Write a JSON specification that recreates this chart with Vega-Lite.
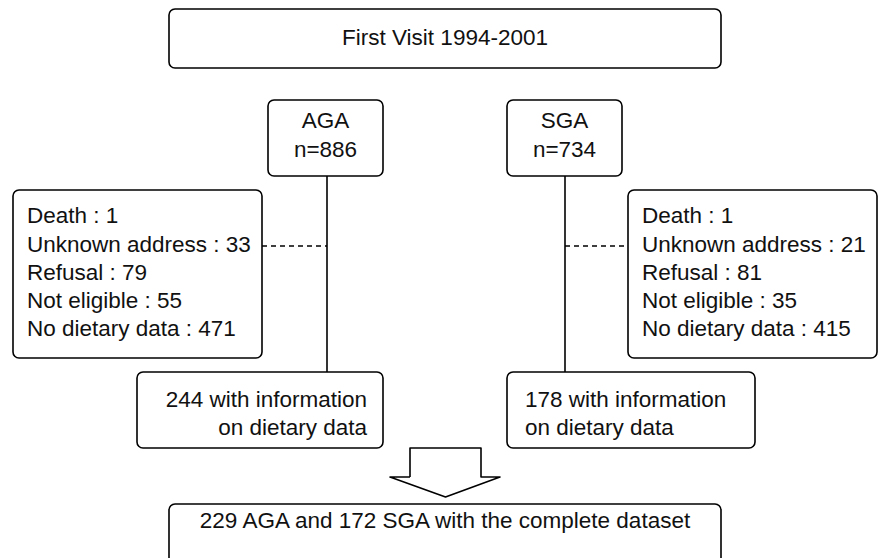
{
  "$schema": "https://vega.github.io/schema/vega-lite/v6.json",
  "width": 878,
  "height": 558,
  "autosize": {"type": "none"},
  "padding": 0,
  "background": "white",
  "config": {"view": {"stroke": null}},
  "datasets": {
    "boxes": [
      {"box": "top", "x1": 169, "x2": 721, "y1": 9, "y2": 68},
      {"box": "AGA", "x1": 268, "x2": 383, "y1": 100, "y2": 176},
      {"box": "SGA", "x1": 507, "x2": 622, "y1": 100, "y2": 176},
      {"box": "AGA excluded", "x1": 13, "x2": 262, "y1": 190, "y2": 358},
      {"box": "SGA excluded", "x1": 628, "x2": 877, "y1": 190, "y2": 358},
      {"box": "AGA dietary", "x1": 137, "x2": 383, "y1": 372, "y2": 448},
      {"box": "SGA dietary", "x1": 507, "x2": 755, "y1": 372, "y2": 448},
      {"box": "final", "x1": 169, "x2": 721, "y1": 504, "y2": 580}
    ],
    "links": [
      {"link": "main", "x1": 327, "x2": 327, "y1": 176, "y2": 372},
      {"link": "main", "x1": 565, "x2": 565, "y1": 176, "y2": 372},
      {"link": "exclusion", "x1": 262, "x2": 327, "y1": 246, "y2": 246},
      {"link": "exclusion", "x1": 565, "x2": 628, "y1": 246, "y2": 246}
    ],
    "arrow": [
      {"order": 1, "x": 410, "y": 477},
      {"order": 2, "x": 410, "y": 448},
      {"order": 3, "x": 481, "y": 448},
      {"order": 4, "x": 481, "y": 477},
      {"order": 5, "x": 500, "y": 477},
      {"order": 6, "x": 445.5, "y": 497},
      {"order": 7, "x": 390, "y": 477},
      {"order": 8, "x": 410, "y": 477}
    ],
    "labels": [
      {"anchor": "center", "text": "First Visit 1994-2001", "x": 445, "y": 45},
      {"anchor": "center", "text": "AGA", "x": 325.5, "y": 128},
      {"anchor": "center", "text": "n=886", "x": 325.5, "y": 157},
      {"anchor": "center", "text": "SGA", "x": 564.5, "y": 128},
      {"anchor": "center", "text": "n=734", "x": 564.5, "y": 157},
      {"anchor": "center", "text": "229 AGA and 172 SGA with the complete dataset", "x": 445, "y": 528},
      {"anchor": "left", "text": "Death : 1", "x": 27, "y": 223},
      {"anchor": "left", "text": "Unknown address : 33", "x": 27, "y": 251.5},
      {"anchor": "left", "text": "Refusal : 79", "x": 27, "y": 280},
      {"anchor": "left", "text": "Not eligible : 55", "x": 27, "y": 308},
      {"anchor": "left", "text": "No dietary data : 471", "x": 27, "y": 336},
      {"anchor": "left", "text": "Death : 1", "x": 642, "y": 223},
      {"anchor": "left", "text": "Unknown address : 21", "x": 642, "y": 251.5},
      {"anchor": "left", "text": "Refusal : 81", "x": 642, "y": 280},
      {"anchor": "left", "text": "Not eligible : 35", "x": 642, "y": 308},
      {"anchor": "left", "text": "No dietary data : 415", "x": 642, "y": 336},
      {"anchor": "right", "text": "244 with information", "x": 367, "y": 406.5},
      {"anchor": "right", "text": "on dietary data", "x": 367, "y": 434.5},
      {"anchor": "left", "text": "178 with information", "x": 525, "y": 406.5},
      {"anchor": "left", "text": "on dietary data", "x": 525, "y": 434.5}
    ]
  },
  "layer": [
    {
      "data": {"name": "boxes"},
      "mark": {"type": "rect", "fill": "white", "stroke": "#000000", "strokeWidth": 1.6, "cornerRadius": 6, "clip": true},
      "encoding": {
        "x": {"field": "x1", "type": "quantitative", "scale": {"domain": [0, 878], "nice": false, "zero": false}, "axis": null},
        "x2": {"field": "x2"},
        "y": {"field": "y1", "type": "quantitative", "scale": {"domain": [0, 558], "nice": false, "zero": false, "reverse": true}, "axis": null},
        "y2": {"field": "y2"}
      }
    },
    {
      "data": {"name": "links"},
      "transform": [{"filter": "datum.link === 'main'"}],
      "mark": {"type": "rule", "stroke": "#000000", "strokeWidth": 1.6},
      "encoding": {
        "x": {"field": "x1", "type": "quantitative"},
        "x2": {"field": "x2"},
        "y": {"field": "y1", "type": "quantitative"},
        "y2": {"field": "y2"}
      }
    },
    {
      "data": {"name": "links"},
      "transform": [{"filter": "datum.link === 'exclusion'"}],
      "mark": {"type": "rule", "stroke": "#000000", "strokeWidth": 1.6, "strokeDash": [5, 4]},
      "encoding": {
        "x": {"field": "x1", "type": "quantitative"},
        "x2": {"field": "x2"},
        "y": {"field": "y1", "type": "quantitative"},
        "y2": {"field": "y2"}
      }
    },
    {
      "data": {"name": "arrow"},
      "mark": {"type": "line", "stroke": "#000000", "strokeWidth": 1.6, "strokeJoin": "round"},
      "encoding": {
        "x": {"field": "x", "type": "quantitative"},
        "y": {"field": "y", "type": "quantitative"},
        "order": {"field": "order", "type": "quantitative"}
      }
    },
    {
      "data": {"name": "labels"},
      "transform": [{"filter": "datum.anchor === 'center'"}],
      "mark": {"type": "text", "align": "center", "baseline": "alphabetic", "font": "Liberation Sans", "fontSize": 22.5, "color": "#111111"},
      "encoding": {
        "x": {"field": "x", "type": "quantitative"},
        "y": {"field": "y", "type": "quantitative"},
        "text": {"field": "text"}
      }
    },
    {
      "data": {"name": "labels"},
      "transform": [{"filter": "datum.anchor === 'left'"}],
      "mark": {"type": "text", "align": "left", "baseline": "alphabetic", "font": "Liberation Sans", "fontSize": 22.5, "color": "#111111"},
      "encoding": {
        "x": {"field": "x", "type": "quantitative"},
        "y": {"field": "y", "type": "quantitative"},
        "text": {"field": "text"}
      }
    },
    {
      "data": {"name": "labels"},
      "transform": [{"filter": "datum.anchor === 'right'"}],
      "mark": {"type": "text", "align": "right", "baseline": "alphabetic", "font": "Liberation Sans", "fontSize": 22.5, "color": "#111111"},
      "encoding": {
        "x": {"field": "x", "type": "quantitative"},
        "y": {"field": "y", "type": "quantitative"},
        "text": {"field": "text"}
      }
    }
  ]
}
